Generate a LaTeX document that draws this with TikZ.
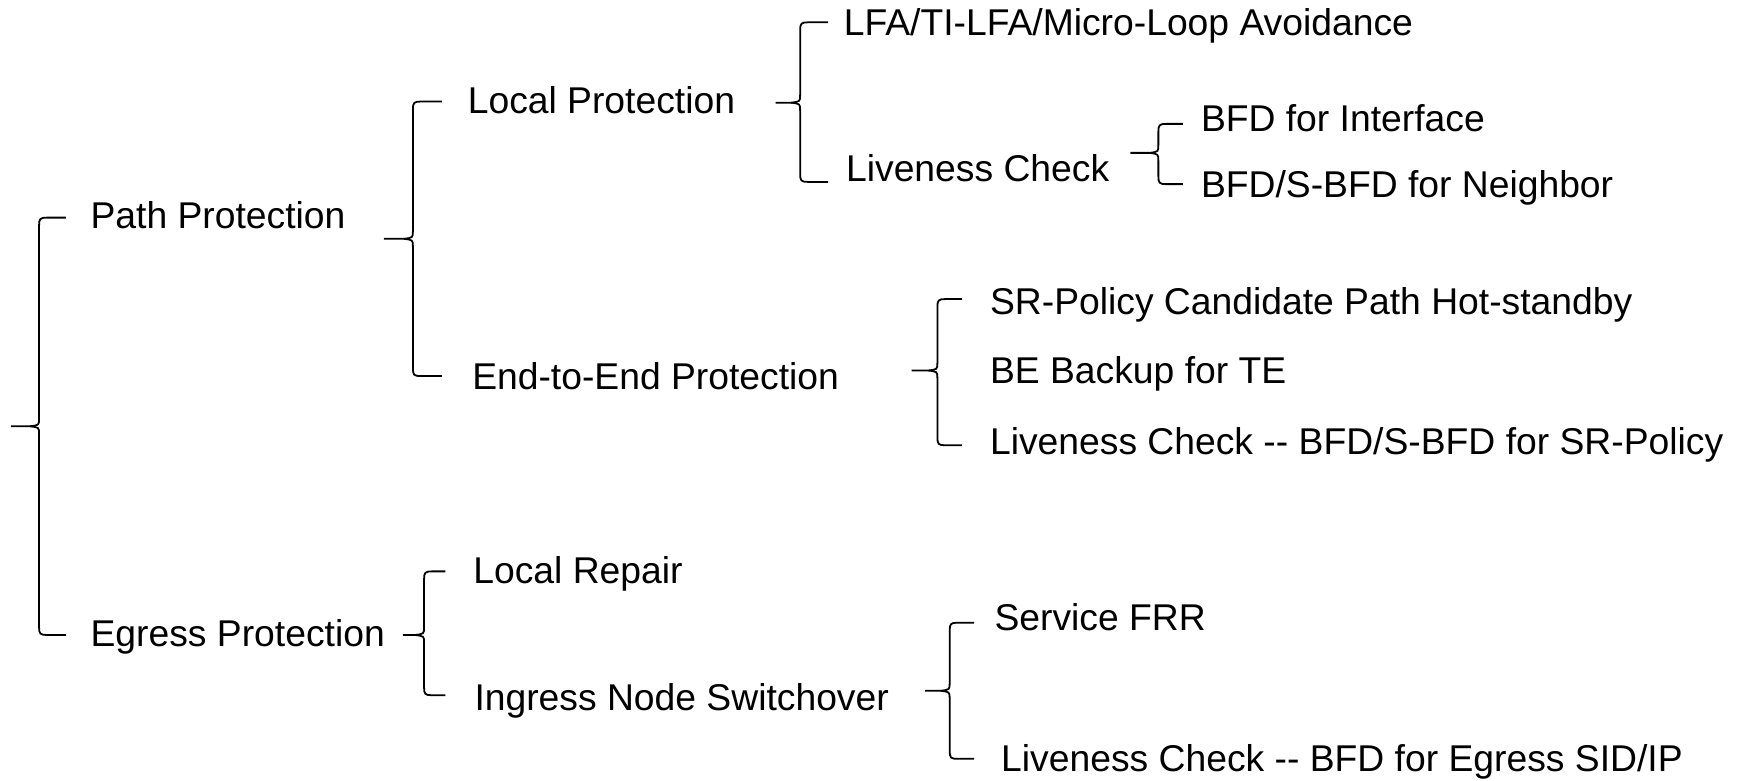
\documentclass[tikz,border=0pt]{standalone}
\usepackage{fontspec}
\setmainfont{Liberation Sans}
\newcommand\drawbrace[6]{% tipx, tipy, vx, topy, boty, hookx
  \draw[brace] (#6,#4) -- (#3+7,#4) .. controls (#3+1,#4) and (#3,#4+1) .. (#3,#4+7)
     -- (#3,#2-7) .. controls (#3,#2-1) .. (#3-8,#2) -- (#1,#2);
  \draw[brace] (#3-8,#2) .. controls (#3,#2+1) .. (#3,#2+7)
     -- (#3,#5-7) .. controls (#3,#5-1) and (#3+1,#5) .. (#3+7,#5) -- (#6,#5);
}
\begin{document}
\begin{tikzpicture}[x=1pt,y=-1pt,
  lbl/.style={anchor=base west, inner sep=0pt, font=\fontsize{33.4}{40}\selectfont},
  brace/.style={line width=1.6pt, line join=round, line cap=butt}]
\useasboundingbox (0,0) rectangle (1561,699);
% labels
\node[lbl] (pp)  at (81,205)  {Path Protection};
\node[lbl] (ep)  at (81,579)  {Egress Protection};
\node[lbl] (lp)  at (419,102) {Local Protection};
\node[lbl] (e2e) at (423,349) {End-to-End Protection};
\node[lbl] (lfa) at (756,32)  {LFA/TI-LFA/Micro-Loop Avoidance};
\node[lbl] (lc1) at (758,163) {Liveness Check};
\node[lbl] (bfi) at (1076,118) {BFD for Interface};
\node[lbl] (bfn) at (1076,177) {BFD/S-BFD for Neighbor};
\node[lbl] (srp) at (887,282) {SR-Policy Candidate Path Hot-standby};
\node[lbl] (beb) at (887,344) {BE Backup for TE};
\node[lbl] (lc2) at (887,407) {Liveness Check -{}- BFD/S-BFD for SR-Policy};
\node[lbl] (lr)  at (424,523) {Local Repair};
\node[lbl] (ins) at (425,637) {Ingress Node Switchover};
\node[lbl] (sfr) at (891,565) {Service FRR};
\node[lbl] (lc3) at (897,691) {Liveness Check -{}- BFD for Egress SID/IP};
% braces
\drawbrace{10}{382}{35}{195}{569}{59}
\drawbrace{344}{214}{370}{91}{337}{396}
\drawbrace{695}{92}{717}{20}{163}{742}
\drawbrace{1013}{137}{1038}{111}{165}{1060}
\drawbrace{817}{332}{840}{268}{399}{862}
\drawbrace{361}{569}{380}{512}{623}{399}
\drawbrace{829}{619}{851}{558}{680}{873}
\end{tikzpicture}
\end{document}
